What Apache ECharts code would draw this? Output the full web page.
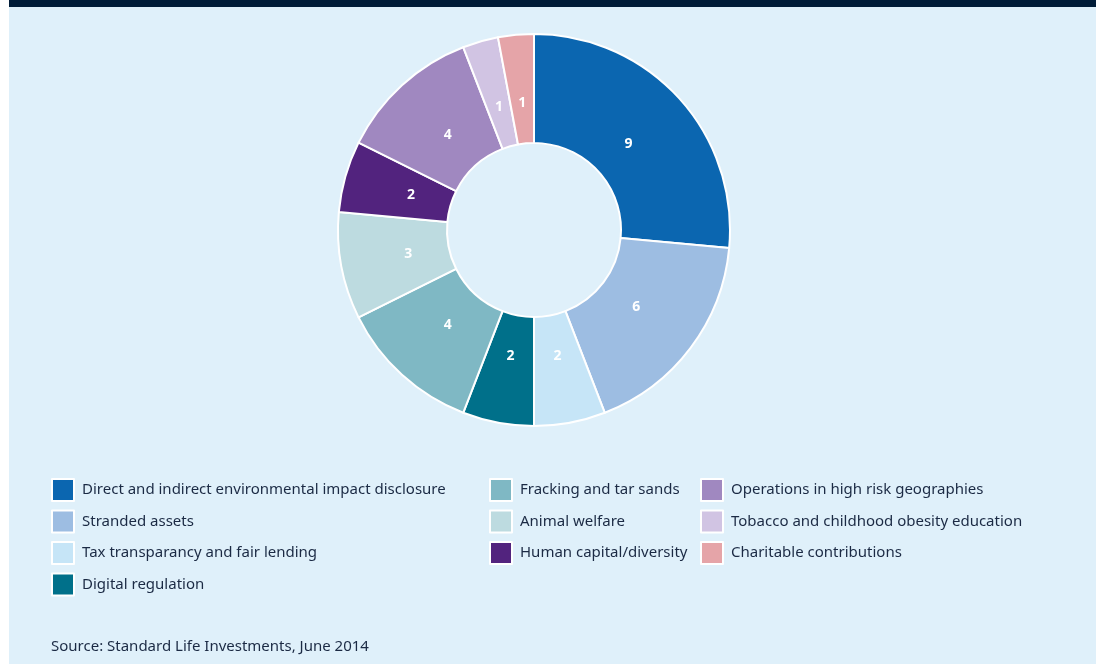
<!DOCTYPE html>
<html>
<head>
<meta charset="utf-8">
<script src="https://cdn.jsdelivr.net/npm/echarts@6/dist/echarts.min.js"></script>
<style>
  html, body { margin: 0; padding: 0; background: #ffffff; }
  #chart { width: 1096px; height: 666px; }
</style>
</head>
<body>
<div id="chart"></div>
<script>
// engagement themes, clockwise from 12 o'clock
const themes = [
  'Direct and indirect environmental impact disclosure',
  'Stranded assets',
  'Tax transparancy and fair lending',
  'Digital regulation',
  'Fracking and tar sands',
  'Animal welfare',
  'Human capital/diversity',
  'Operations in high risk geographies',
  'Tobacco and childhood obesity education',
  'Charitable contributions'
];
const counts = [9, 6, 2, 2, 4, 3, 2, 4, 1, 1];
const colors = [
  '#0b66b0', '#9dbde2', '#c6e5f7', '#00708a', '#7fb8c4',
  '#bddbe0', '#52237e', '#a088c0', '#d1c4e3', '#e5a4a8'
];

const legendCols = [themes.slice(0, 4), themes.slice(4, 7), themes.slice(7)];
const legendLeft = [51, 489, 700];

const FONT = '"Noto Sans", sans-serif';
const TEXT = '#1b2a44';

const pieData = themes.map((name, i) => ({
  name,
  value: counts[i],
  itemStyle: { color: colors[i] }
}));

const chart = echarts.init(document.getElementById('chart'), null, { renderer: 'canvas' });

chart.setOption({
  animation: false,
  graphic: [
    { type: 'rect', z: -10, silent: true, shape: { x: 9, y: 0, width: 1087, height: 664 }, style: { fill: '#dff0fa' } },
    { type: 'rect', z: -9, silent: true, shape: { x: 9, y: 0, width: 1087, height: 7 }, style: { fill: '#001c38' } },
    {
      type: 'text', left: 51, top: 639, silent: true,
      style: { text: 'Source: Standard Life Investments, June 2014', fill: TEXT, font: '15px ' + FONT }
    }
  ],
  legend: legendCols.map((col, k) => ({
    data: col,
    orient: 'vertical',
    left: legendLeft[k],
    top: 478,
    padding: 0,
    itemWidth: 22,
    itemHeight: 22,
    itemGap: 7.5,
    icon: 'rect',
    selectedMode: false,
    textStyle: { fontFamily: FONT, fontSize: 15, color: TEXT, padding: [0, 0, 0, 3] }
  })),
  series: [
    {
      type: 'pie',
      center: [534, 230],
      radius: [87, 196],
      startAngle: 90,
      clockwise: true,
      avoidLabelOverlap: false,
      itemStyle: { borderColor: '#ffffff', borderWidth: 2 },
      label: { show: false },
      labelLine: { show: false },
      emphasis: { disabled: true },
      data: pieData
    },
    {
      // label carrier: same slices, labels sit a bit inward of the ring's middle
      type: 'pie',
      center: [534, 230],
      radius: [87, 163],
      startAngle: 90,
      clockwise: true,
      silent: true,
      avoidLabelOverlap: false,
      itemStyle: { color: 'transparent' },
      label: {
        show: true,
        position: 'inside',
        formatter: '{c}',
        color: '#ffffff',
        fontFamily: FONT,
        fontSize: 14,
        fontWeight: 'bold'
      },
      labelLine: { show: false },
      emphasis: { disabled: true },
      data: themes.map((name, i) => ({ name, value: counts[i] }))
    }
  ]
});
</script>
</body>
</html>
